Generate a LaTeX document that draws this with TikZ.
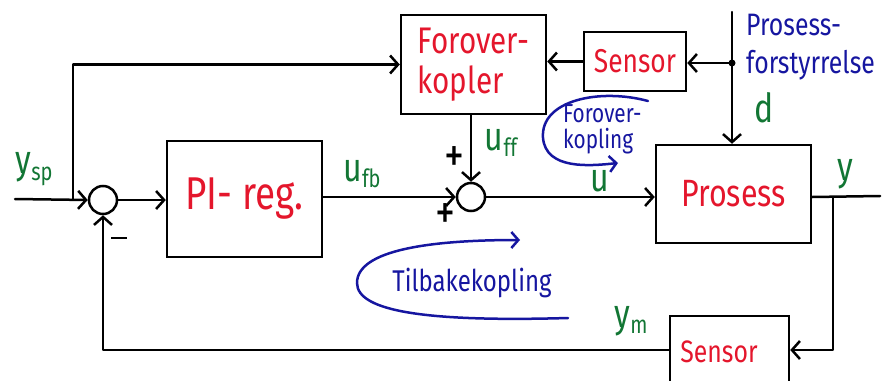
\documentclass[tikz,border=0pt]{standalone}
\usepackage{fontspec}
\setmainfont[FakeStretch=0.8]{Fira Sans}
\usetikzlibrary{arrows.meta}
\definecolor{blkred}{RGB}{228,22,44}
\definecolor{sigGreen}{RGB}{18,118,52}
\definecolor{noteBlue}{RGB}{22,22,160}
\tikzset{
  x=1pt, y=-1pt,
  wire/.style={line width=2.5pt, line cap=round, line join=round},
  flow/.style={wire, -{Straight Barb[length=8pt,width=18pt,line width=2.5pt]}},
  blockbox/.style={draw, line width=2.5pt, rectangle, inner sep=0pt, text=blkred},
  sumpoint/.style={draw, line width=2.5pt, circle, minimum size=28pt, inner sep=0pt},
  sig/.style={text=sigGreen, font=\fontsize{40}{40}\selectfont, inner sep=0pt},
  note/.style={text=noteBlue, inner sep=0pt, align=left},
  loop/.style={draw=noteBlue, line width=2.5pt, line cap=round,
    -{Straight Barb[length=7pt,width=16pt,line width=2.5pt]}},
  sgn/.style={font=\fontsize{50}{50}\selectfont, inner sep=0pt}
}
\newcommand{\subtxt}[1]{\raisebox{-0.3ex}{\fontsize{25}{25}\selectfont #1}}
\begin{document}
\begin{tikzpicture}
\useasboundingbox (0,0) rectangle (885,380);

% blocks
\node[blockbox, minimum width=155pt, minimum height=116pt,
  font=\fontsize{46}{46}\selectfont] (pi) at (244.5,199) {PI- reg.};
\node[blockbox, minimum width=145pt, minimum height=99pt, align=left,
  font=\fontsize{37}{40}\selectfont] (ffk) at (473.5,64.5) {Forover-\\kopler};
\node[blockbox, minimum width=102pt, minimum height=59pt,
  font=\fontsize{33}{33}\selectfont] (sensA) at (635,61.5) {Sensor};
\node[blockbox, minimum width=155pt, minimum height=98pt,
  font=\fontsize{38}{38}\selectfont] (proc) at (733.5,194) {Prosess};
\node[blockbox, minimum width=119pt, minimum height=68pt] (sensB) at (729.5,350) {};
\node[text=blkred, font=\fontsize{31}{31}\selectfont] (sensBtxt) at (719,352) {Sensor};

% summing points
\node[sumpoint] (s1) at (103,200) {};
\node[sumpoint] (s2) at (471,197) {};

% free ends and branch points
\coordinate (in) at (15,199);
\coordinate (br) at (73,199);
\coordinate (dtop) at (732,12);
\coordinate (dj) at (732,63);
\coordinate (yb) at (833,197);
\coordinate (out) at (880,196);

% signal flow
\draw[flow] (in) -- (s1.west);
\draw[flow] (br) |- (ffk.west);
\draw[flow] (s1.east) -- (pi.west |- s1.east);
\draw[flow] (pi.east |- s2.west) -- (s2.west);
\draw[flow] (ffk.south -| s2.north) -- (s2.north);
\draw[flow] (s2.east) -- (proc.west |- s2.east);
\draw[flow] (dtop) -- (proc.north -| dtop);
\draw[flow] (dj) -- (sensA.east |- dj);
\draw[flow] (sensA.west) -- (ffk.east |- sensA.west);
\fill (dj) circle (3.5pt);
\draw[wire] (proc.east |- yb) -- (out);
\draw[flow] (yb) |- (sensB.east);
\draw[flow] (sensB.west) -| (s1.south);

% signal names
\node[sig] (lysp) at (34,169) {y\subtxt{sp}};
\node[sig] (lufb) at (362,174) {u\subtxt{fb}};
\node[sig] (luff) at (501,143) {u\subtxt{ff}};
\node[sig] (lu) at (600,181) {u};
\node[sig] (ld) at (764,108) {d};
\node[sig] (ly) at (845,174) {y};
\node[sig] (lym) at (631,321) {y\subtxt{m}};

% signs at the summing points
\node[sgn] (p1) at (454,160) {+};
\node[sgn] (p2) at (445,217) {+};
\node[inner sep=0pt] (m1) at (119,238) {\rule{16pt}{2.5pt}};

% annotations
\node[note, anchor=north west, font=\fontsize{31}{38}\selectfont] (dist) at (746,14)
  {Prosess-\\forstyrrelse};
\node[note, anchor=north west, font=\fontsize{26}{26}\selectfont] (ffnote) at (563,104)
  {Forover-\\kopling};
\draw[loop] (648,101) .. controls (600,88) and (540,100) .. (543,138)
  .. controls (546,170) and (590,166) .. (618,163);
\node[note, font=\fontsize{30}{30}\selectfont] (fbnote) at (472,283) {Tilbakekopling};
\draw[loop] (568,318) .. controls (430,322) and (357,312) .. (357,283)
  .. controls (357,250) and (430,240) .. (520,240);
\end{tikzpicture}
\end{document}
